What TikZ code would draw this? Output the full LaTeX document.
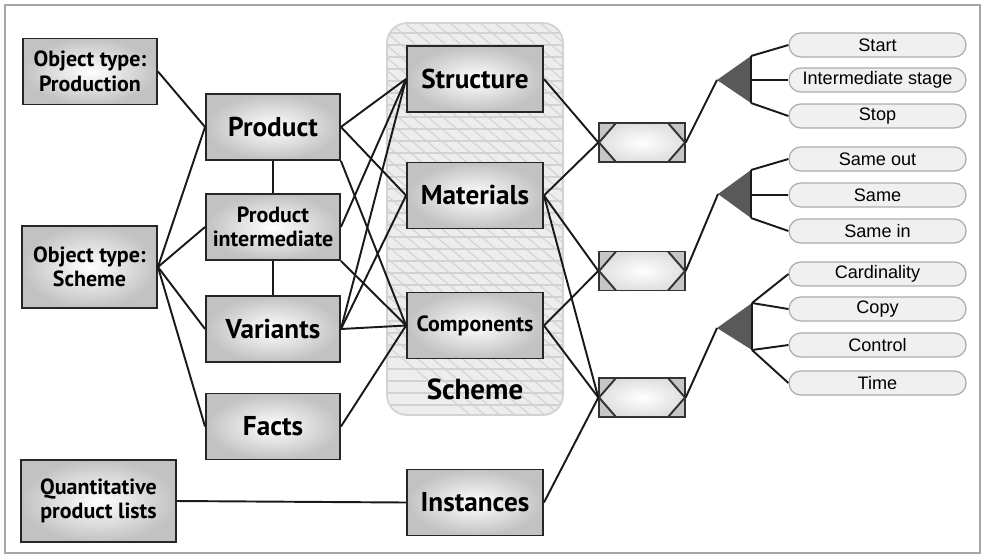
\documentclass[tikz,border=0pt]{standalone}
\usepackage{fontspec}
\setmainfont{Liberation Sans}
\newfontfamily\boxfont{PT Sans}
\usepackage{tikz}

\begin{document}
\begin{tikzpicture}[
            x=0.02cm, y=-0.02cm,
            box/.style={rectangle, draw=black!85, line width=1.1pt, inner color=white, outer color=gray!48, minimum width=2.68cm, minimum height=1.32cm, align=center, font=\boxfont\bfseries\fontsize{15.5}{17}\selectfont},
            smallbox/.style={box, font=\boxfont\bfseries\fontsize{12.5}{14}\selectfont},
            link/.style={rectangle, draw=gray!40!black, line width=0.8pt, fill=gray!45, minimum width=1.72cm, minimum height=0.78cm, inner sep=0pt,
                path picture={
                    \shade[inner color=white, outer color=gray!25] (path picture bounding box.west) -- ([xshift=0.34cm]path picture bounding box.north west) -- ([xshift=-0.34cm]path picture bounding box.north east) -- (path picture bounding box.east) -- ([xshift=-0.34cm]path picture bounding box.south east) -- ([xshift=0.34cm]path picture bounding box.south west) -- cycle;
                    \draw[line width=1.1pt] ([xshift=0.34cm]path picture bounding box.north west) -- (path picture bounding box.west) -- ([xshift=0.34cm]path picture bounding box.south west);
                    \draw[line width=1.1pt] ([xshift=-0.34cm]path picture bounding box.north east) -- (path picture bounding box.east) -- ([xshift=-0.34cm]path picture bounding box.south east);
                }},
            pill/.style={rectangle, draw=gray!65, line width=0.7pt, fill=gray!12, rounded corners=0.235cm, minimum width=3.54cm, minimum height=0.48cm, inner sep=0pt, font=\fontsize{10.3}{11}\selectfont},
            fan/.style={fill=gray!70!black},
            conn/.style={line width=1.1pt, black!90},
            hatch/.style={gray!35, line width=0.6pt}
            ]

            \useasboundingbox (0,0) rectangle (982,555);
            \draw[gray!70, line width=1pt] (5,5) rectangle (980,553);

            % Scheme area
            \begin{scope}
                \path[clip, rounded corners=0.4cm] (387,23) rectangle (563,415);
                \fill[gray!14] (387,23) rectangle (563,415);
                \foreach \y in {33,45,...,415} \draw[hatch] (387,\y) -- (563,\y);
                \foreach \x in {0,15,...,570} \draw[hatch] (\x,23) -- ++(470,392);
            \end{scope}
            \draw[gray!35, line width=1pt, rounded corners=0.4cm] (387,23) rectangle (563,415);
            \node[font=\boxfont\bfseries\fontsize{16.5}{18}\selectfont] (schemelbl) at (475,389) {Scheme};

            % Object types and lists
            \node[smallbox] (production) at (90,71.5) {Object type:\\Production};
            \node[smallbox, minimum width=2.7cm, minimum height=1.64cm] (scheme) at (89.5,267) {Object type:\\Scheme};
            \node[smallbox, minimum width=3.1cm, minimum height=1.64cm] (quantlists) at (98.5,501) {Quantitative\\product lists};

            % Product side
            \node[box] (product) at (273,127) {Product};
            \node[smallbox] (intermediate) at (273,227) {Product\\intermediate};
            \node[box] (variants) at (273,329) {Variants};
            \node[box] (facts) at (273,426.5) {Facts};

            % Scheme side
            \node[box, minimum width=2.72cm] (structure) at (475,79) {Structure};
            \node[box, minimum width=2.72cm] (materials) at (475,195.5) {Materials};
            \node[smallbox, minimum width=2.72cm] (components) at (475,325.5) {Components};
            \node[box, minimum width=2.72cm] (instances) at (475,502.5) {Instances};

            % Links
            \node[link] (link1) at (642,142.5) {};
            \node[link] (link2) at (642,271) {};
            \node[link] (link3) at (642,397.5) {};

            % Fans
            \coordinate (fan1) at (717,80);
            \coordinate (fan1a) at (751,56);
            \coordinate (fan1m) at (751,80);
            \coordinate (fan1b) at (751,103);
            \coordinate (fan2) at (718,194);
            \coordinate (fan2a) at (751,170);
            \coordinate (fan2m) at (751,195);
            \coordinate (fan2b) at (751,218);
            \coordinate (fan3) at (717,328);
            \coordinate (fan3a) at (752,303);
            \coordinate (fan3b) at (752,350);
            \fill[fan] (fan1) -- (fan1a) -- (fan1b) -- cycle;
            \fill[fan] (fan2) -- (fan2a) -- (fan2b) -- cycle;
            \fill[fan] (fan3) -- (fan3a) -- (fan3b) -- cycle;
            \draw[conn] (fan1a) -- (fan1b);
            \draw[conn] (fan2a) -- (fan2b);
            \draw[conn] (fan3a) -- (fan3b);

            % Options
            \node[pill] (start) at (877.5,45) {Start};
            \node[pill] (stage) at (877.5,80) {Intermediate stage};
            \node[pill] (stop) at (877.5,116) {Stop};
            \node[pill] (sameout) at (877.5,159) {Same out};
            \node[pill] (same) at (877.5,195) {Same};
            \node[pill] (samein) at (877.5,231) {Same in};
            \node[pill] (card) at (877.5,274) {Cardinality};
            \node[pill] (copy) at (877.5,309) {Copy};
            \node[pill] (control) at (877.5,345) {Control};
            \node[pill] (time) at (877.5,383) {Time};

            % Left connections
            \draw[conn] (production.east) -- (product.west);
            \draw[conn] (scheme.east) -- (product.west);
            \draw[conn] (scheme.east) -- (intermediate.west);
            \draw[conn] (scheme.east) -- (variants.west);
            \draw[conn] (scheme.east) -- (facts.west);
            \draw[conn] (product) -- (intermediate);
            \draw[conn] (intermediate) -- (variants);
            \draw[conn] (quantlists.east) -- (instances.west);

            % Into the scheme
            \draw[conn] (product.east) -- (structure.west);
            \draw[conn] (product.east) -- (materials.west);
            \draw[conn] (product.south east) -- (components.west);
            \draw[conn] (intermediate.east) -- (structure.west);
            \draw[conn] (intermediate.south east) -- (components.west);
            \draw[conn] (variants.east) -- (structure.west);
            \draw[conn] (variants.east) -- (materials.west);
            \draw[conn] (variants.east) -- (components.west);
            \draw[conn] (facts.east) -- (components.west);

            % Scheme to links
            \draw[conn] (structure.east) -- (link1.west);
            \draw[conn] (materials.east) -- (link1.west);
            \draw[conn] (materials.east) -- (link2.west);
            \draw[conn] (materials.east) -- (link3.west);
            \draw[conn] (components.east) -- (link2.west);
            \draw[conn] (components.east) -- (link3.west);
            \draw[conn] (instances.east) -- (link3.west);

            % Links to fans
            \draw[conn] (link1.east) -- (fan1);
            \draw[conn] (link2.east) -- (fan2);
            \draw[conn] (link3.east) -- (fan3);

            % Fans to options
            \draw[conn] (fan1a) -- (start.west);
            \draw[conn] (fan1m) -- (stage.west);
            \draw[conn] (fan1b) -- (stop.west);
            \draw[conn] (fan2a) -- (sameout.west);
            \draw[conn] (fan2m) -- (same.west);
            \draw[conn] (fan2b) -- (samein.west);
            \draw[conn] (fan3a) -- (card.west);
            \draw[conn] (fan3a) -- (copy.west);
            \draw[conn] (fan3b) -- (control.west);
            \draw[conn] (fan3b) -- (time.west);

        \end{tikzpicture}
\end{document}
